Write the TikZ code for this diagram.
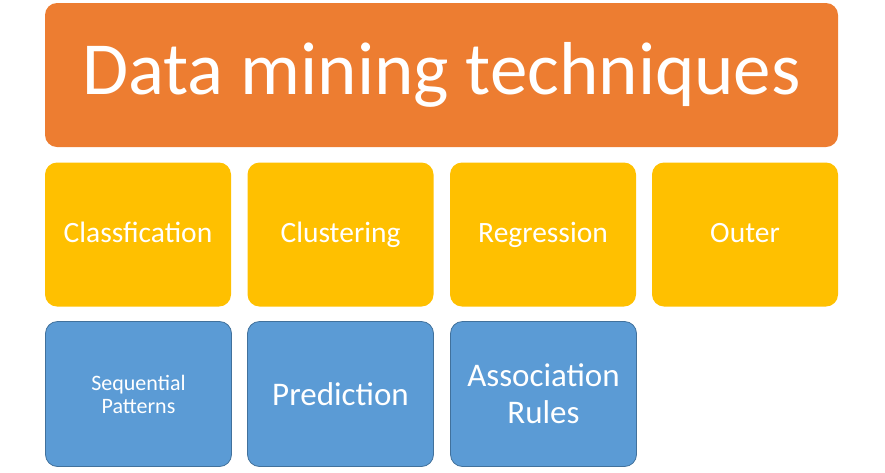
\documentclass[tikz,border=0pt]{standalone}
\usepackage{fontspec}
\setmainfont{Carlito}
\usepackage{tikz}

\begin{document}
\begin{tikzpicture}[x=1pt,y=-1pt]
				\tikzstyle{box}=[rounded corners=12pt,inner sep=0pt,align=center,text=white]
				\tikzstyle{top}=[box,fill={rgb,255:red,237;green,125;blue,49},minimum width=793pt,minimum height=144pt,font=\fontsize{75}{80}\selectfont]
				\tikzstyle{mid}=[box,fill={rgb,255:red,255;green,192;blue,0},minimum width=186pt,minimum height=144pt,text height=21pt,text depth=6pt,font=\fontsize{29.5}{34}\selectfont]
				\tikzstyle{low}=[box,fill={rgb,255:red,91;green,155;blue,213},draw={rgb,255:red,65;green,113;blue,156},line width=0.8pt,minimum width=186pt,minimum height=145pt,font=\fontsize{33}{37}\selectfont]

				\useasboundingbox (0,0) rectangle (885,472);

				\node[top] (dmt) at (441.5, 75) {Data mining techniques};

				\node[mid] (cls) at (138, 234.5) {Classfication};
				\node[mid] (clu) at (340.5, 234.5) {Clustering};
				\node[mid] (reg) at (543, 234.5) {Regression};
				\node[mid] (out) at (745, 234.5) {Outer};

				\node[low,font=\fontsize{22}{23}\selectfont] (seq) at (138.5, 394) {Sequential\\Patterns};
				\node[low] (pre) at (340.5, 394) {Prediction};
				\node[low] (ass) at (543.5, 394) {Association\\Rules};
			\end{tikzpicture}
\end{document}
